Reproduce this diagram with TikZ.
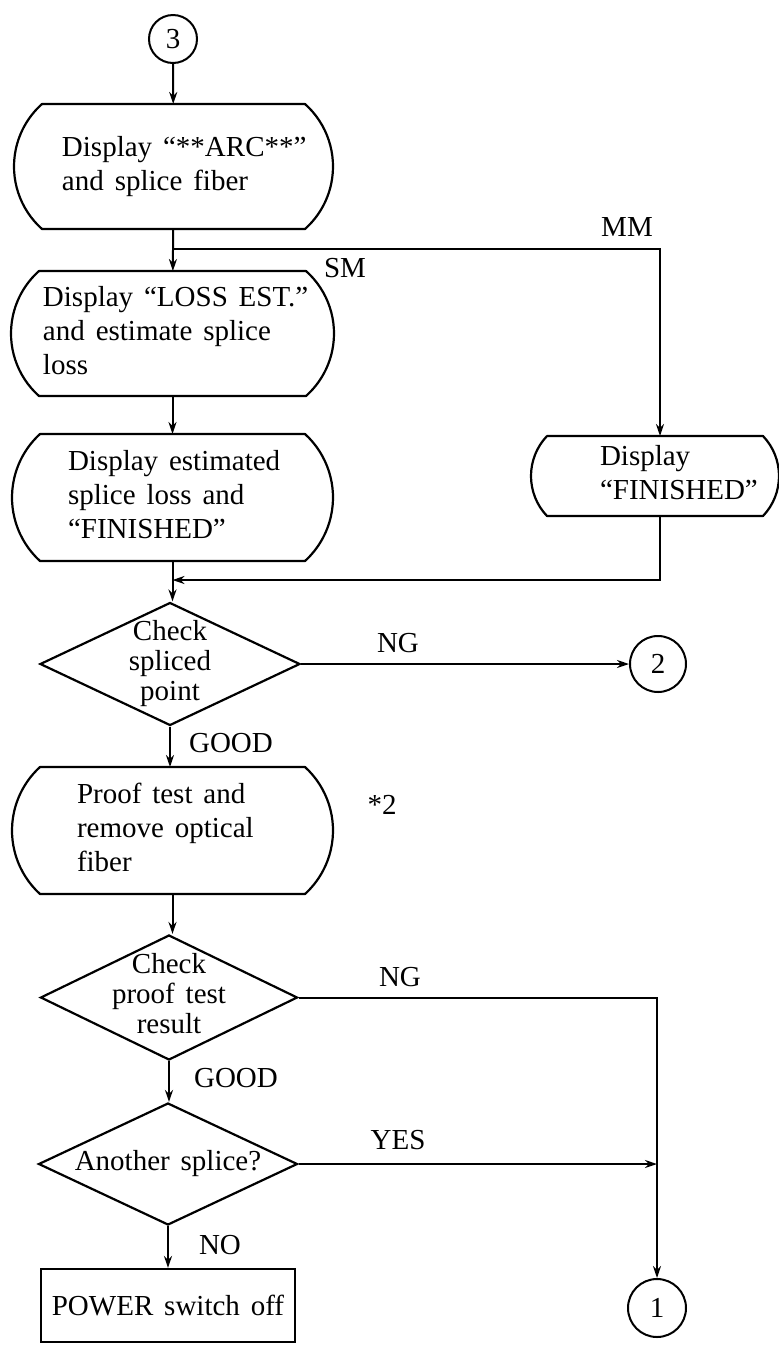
\documentclass[tikz,border=0pt]{standalone}
\usepackage{fontspec}
\setmainfont[WordSpace=1.5]{Liberation Serif}
\usetikzlibrary{shapes.geometric,arrows.meta,calc}

% left-aligned block of lines inside a box of width #1, indented by #2
\newcommand\boxlines[3]{\makebox[#1][l]{\hspace*{#2}\begin{tabular}{@{}l@{}}#3\end{tabular}}}
% centred lines of zero width, so the diamond keeps its given size
\newcommand\diamlines[1]{\makebox[0pt]{\fontsize{29}{30}\selectfont\begin{tabular}{@{}c@{}}#1\end{tabular}}}
% display-shaped outline: flat top and bottom, circular bulging sides
\newcommand\dispoutline[2]{%
  \draw[outl] let \p1=(#1.north west), \p2=(#1.south east),
    \n1={(\y1-\y2)/2}, \n2={(\n1*\n1+#2*#2)/(2*#2)}, \n3={asin(\n1/\n2)} in
    (\x1+#2pt,\y1) -- (\x2-#2pt,\y1)
    arc[start angle=\n3, end angle=-\n3, radius=\n2]
    -- (\x1+#2pt,\y2)
    arc[start angle=180+\n3, end angle=180-\n3, radius=\n2] -- cycle;}

\begin{document}
\begin{tikzpicture}[x=1pt,y=1pt,line width=2pt,
  every node/.style={font=\fontsize{29}{34}\selectfont},
  arr/.style={-{Stealth[length=12pt,width=8pt]}},
  outl/.style={line width=2.2pt,line join=round},
  dispnode/.style={inner sep=0pt},
  decision/.style={diamond,draw,line width=2.2pt,inner sep=0pt},
  conn/.style={circle,draw,line width=2pt,inner sep=0pt,minimum size=#1},
  lbl/.style={inner sep=0pt}]
\useasboundingbox (0,0) rectangle (779,-1345);

% connectors (off-page references)
\node[conn=48] (c3) at (173,-39) {3};
\node[conn=56] (c2) at (658,-664) {2};
\node[conn=58] (c1) at (657,-1308) {1};

% process boxes
\node[dispnode,minimum width=317,minimum height=123] (b1) at (173.5,-166.5)
  {\boxlines{317pt}{47pt}{Display “**ARC**”\\and splice fiber}};
\node[dispnode,minimum width=321,minimum height=123] (b2) at (172.5,-333.5)
  {\boxlines{321pt}{31pt}{Display “LOSS EST.”\\and estimate splice\\loss}};
\node[dispnode,minimum width=319,minimum height=125] (b3) at (172.5,-497.5)
  {\boxlines{319pt}{55pt}{Display estimated\\splice loss and\\“FINISHED”}};
\node[dispnode,minimum width=246,minimum height=78] (bmm) at (655,-476)
  {\boxlines{246pt}{68pt}{Display\\“FINISHED”}};
\node[dispnode,minimum width=319,minimum height=125] (b4) at (172.5,-830.5)
  {\boxlines{319pt}{64pt}{Proof test and\\remove optical\\fiber}};
\node[draw,line width=2.2pt,inner sep=0pt,minimum width=254,minimum height=73] (pw)
  at (168,-1305.5) {POWER switch off};

\dispoutline{b1}{28}
\dispoutline{b2}{28}
\dispoutline{b3}{28}
\dispoutline{bmm}{16}
\dispoutline{b4}{28}

% decisions
\node[decision,minimum width=260,minimum height=123] (d1) at (170,-664)
  {\diamlines{Check\\spliced\\point}};
\node[decision,minimum width=257,minimum height=125] (d2) at (169,-997.5)
  {\diamlines{Check\\proof test\\result}};
\node[decision,minimum width=259,minimum height=122] (d3) at (168,-1164)
  {\diamlines{Another splice?}};

% branch and junction points
\coordinate (br) at (173.5,-249);
\coordinate (mg) at (172.5,-580);
\coordinate (jn) at (d3.east -| c1.north);

% labels
\node[lbl] (sm) at (345,-268) {SM};
\node[lbl] (mm) at (627,-227) {MM};
\node[lbl] (ng1) at (398,-643) {NG};
\node[lbl] (good1) at (231,-743) {GOOD};
\node[lbl] (star) at (382,-805) {*2};
\node[lbl] (ng2) at (400,-977) {NG};
\node[lbl] (good2) at (236,-1078) {GOOD};
\node[lbl] (yes) at (398,-1140) {YES};
\node[lbl] (no) at (220,-1245) {NO};

% flow lines
\draw[arr] (c3) -- (b1);
\draw[arr] (b1) -- (b2);
\draw[arr] (br) -| ([xshift=5pt]bmm.north);
\draw[arr] (b2) -- (b3);
\draw[arr] ([xshift=5pt]bmm.south) |- (mg);
\draw[arr] (b3) -- (b3.south |- d1.north);
\draw[arr] (d1.east) -- (c2.west);
\draw[arr] (d1.south) -- (d1.south |- b4.north);
\draw[arr] (b4.south) -- (b4.south |- d2.north);
\draw[arr] (d2.east) -| (c1.north);
\draw[arr] (d2.south) -- (d2.south |- d3.north);
\draw[arr] (d3.east) -- (jn);
\draw[arr] (d3.south) -- (d3.south |- pw.north);
\end{tikzpicture}
\end{document}
